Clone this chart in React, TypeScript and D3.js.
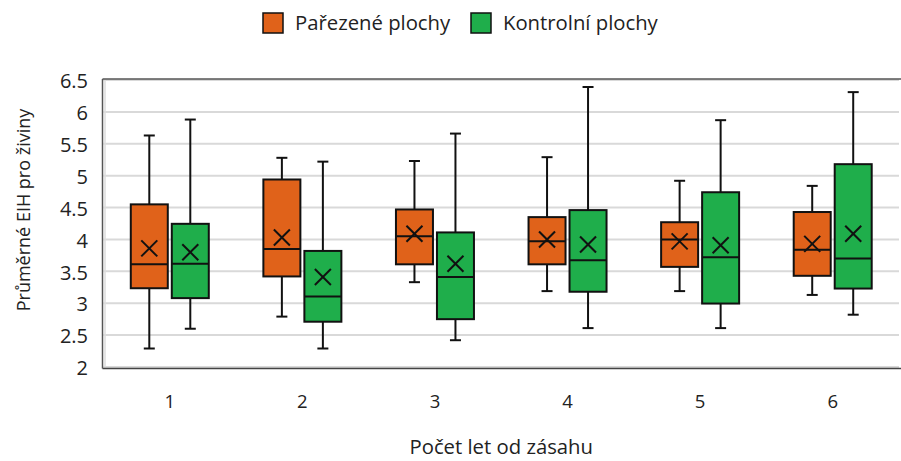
import React from "react";
import * as d3 from "d3";

const categories = ["1", "2", "3", "4", "5", "6"];
const seriesNames = ["Pařezené plochy", "Kontrolní plochy"];
const seriesColors = ["#E0621A", "#1FAE4B"];

// [min, q1, median, q3, max, mean]
const parezeneMin = [2.29, 2.79, 3.33, 3.19, 3.19, 3.13];
const parezeneQ1 = [3.235, 3.42, 3.61, 3.61, 3.57, 3.43];
const parezeneMedian = [3.61, 3.85, 4.05, 3.97, 4.0, 3.84];
const parezeneQ3 = [4.55, 4.94, 4.47, 4.35, 4.27, 4.43];
const parezeneMax = [5.63, 5.28, 5.23, 5.29, 4.92, 4.84];
const parezeneMean = [3.86, 4.03, 4.09, 4.0, 3.97, 3.93];

const kontrolniMin = [2.6, 2.29, 2.42, 2.61, 2.61, 2.82];
const kontrolniQ1 = [3.08, 2.71, 2.75, 3.18, 2.995, 3.23];
const kontrolniMedian = [3.62, 3.105, 3.41, 3.675, 3.72, 3.7];
const kontrolniQ3 = [4.245, 3.82, 4.11, 4.46, 4.74, 5.18];
const kontrolniMax = [5.88, 5.22, 5.66, 6.39, 5.87, 6.31];
const kontrolniMean = [3.8, 3.41, 3.62, 3.92, 3.91, 4.09];

const yTicks = [2, 2.5, 3, 3.5, 4, 4.5, 5, 5.5, 6, 6.5];

const yTitle = "Průměrné EIH pro živiny";
const xTitle = "Počet let od zásahu";

const FONT = "'Open Sans', 'Noto Sans', sans-serif";

export default function App() {
  const W = 901;
  const H = 461;
  const left = 103.5;
  const right = 899;
  const top = 80;
  const bottom = 367;

  const x = d3.scaleBand<string>().domain(categories).range([left, right]).paddingInner(0);
  const y = d3.scaleLinear().domain([2, 6.5]).range([bottom, top]);
  const offsets = [-20.5, 20.5];
  const boxW = 37;
  const capW = 11;
  const xs = 8;

  const series = [
    { min: parezeneMin, q1: parezeneQ1, med: parezeneMedian, q3: parezeneQ3, max: parezeneMax, mean: parezeneMean },
    { min: kontrolniMin, q1: kontrolniQ1, med: kontrolniMedian, q3: kontrolniQ3, max: kontrolniMax, mean: kontrolniMean },
  ];

  const fmt = d3.format("");

  return (
    <svg width={W} height={H} style={{ display: "block", position: "absolute", left: 0, top: 0 }} fontFamily={FONT}>
      <rect x={0} y={0} width={W} height={H} fill="#fff" />
      {/* gridlines */}
      {yTicks.map((t) => (
        <line key={"g" + t} x1={left} x2={right} y1={y(t)} y2={y(t)} stroke="#d9d9d9" strokeWidth={2} />
      ))}
      {/* plot border */}
      <line x1={left - 1} x2={W} y1={top - 1} y2={top - 1} stroke="#555" strokeWidth={1.5} />
      <line x1={left - 1} x2={W} y1={bottom + 1.5} y2={bottom + 1.5} stroke="#444" strokeWidth={1.5} />
      <line x1={left - 1} x2={left - 1} y1={top - 1} y2={bottom + 1.5} stroke="#555" strokeWidth={1.5} />
      <line x1={left + 1.5} x2={left + 1.5} y1={top} y2={bottom} stroke="#ddd" strokeWidth={1.5} />

      {/* y tick labels */}
      {yTicks.map((t) => (
        <text key={"yt" + t} x={88} y={y(t) + 1} dy="0.36em" textAnchor="end" fontSize={20} fill="#222">
          {fmt(t)}
        </text>
      ))}

      {/* x labels */}
      {categories.map((c) => (
        <text key={"xl" + c} x={(x(c) as number) + x.bandwidth() / 2} y={408} textAnchor="middle" fontSize={18.5} fill="#222">
          {c}
        </text>
      ))}

      {/* boxes */}
      {series.map((s, si) =>
        categories.map((c, i) => {
          const cx = (x(c) as number) + x.bandwidth() / 2 + offsets[si];
          const ym = y(s.mean[i]);
          return (
            <g key={"b" + si + c} stroke="#111" strokeWidth={2} fill="none">
              <line x1={cx} x2={cx} y1={y(s.max[i])} y2={y(s.q3[i])} />
              <line x1={cx} x2={cx} y1={y(s.q1[i])} y2={y(s.min[i])} />
              <line x1={cx - capW / 2} x2={cx + capW / 2} y1={y(s.max[i])} y2={y(s.max[i])} />
              <line x1={cx - capW / 2} x2={cx + capW / 2} y1={y(s.min[i])} y2={y(s.min[i])} />
              <rect
                x={cx - boxW / 2}
                y={y(s.q3[i])}
                width={boxW}
                height={y(s.q1[i]) - y(s.q3[i])}
                fill={seriesColors[si]}
              />
              <line x1={cx - boxW / 2} x2={cx + boxW / 2} y1={y(s.med[i])} y2={y(s.med[i])} />
              <line x1={cx - xs} x2={cx + xs} y1={ym - xs} y2={ym + xs} />
              <line x1={cx - xs} x2={cx + xs} y1={ym + xs} y2={ym - xs} />
            </g>
          );
        })
      )}

      {/* legend */}
      {seriesNames.map((n, i) => {
        const lx = [263, 471][i];
        return (
          <g key={"lg" + i}>
            <rect x={lx} y={13} width={20} height={20} fill={seriesColors[i]} stroke="#111" strokeWidth={1.5} />
            <text x={lx + 32} y={30} fontSize={20.3} fill="#222">
              {n}
            </text>
          </g>
        );
      })}

      {/* axis titles */}
      <text x={(left + right) / 2} y={454} textAnchor="middle" fontSize={20.3} fill="#222">
        {xTitle}
      </text>
      <text transform={`translate(30, 210) rotate(-90)`} textAnchor="middle" fontSize={18} fill="#222">
        {yTitle}
      </text>
    </svg>
  );
}
